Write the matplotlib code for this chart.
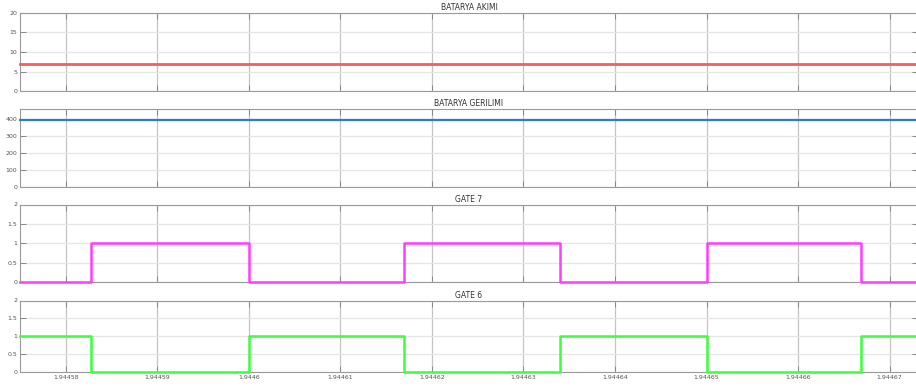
import numpy as np
import matplotlib
matplotlib.use("Agg")
import matplotlib.pyplot as plt

# time axis
x_ticks = [1.94458, 1.94459, 1.94460, 1.94461, 1.94462, 1.94463,
           1.94464, 1.94465, 1.94466, 1.94467]
x_tick_labels = ["1.94458", "1.94459", "1.9446", "1.94461", "1.94462",
                 "1.94463", "1.94464", "1.94465", "1.94466", "1.94467"]
x_min, x_max = 1.9445750, 1.9446731

# battery current (step values)
akim_t = [x_min, 1.9445761, 1.9445949, 1.9446089, 1.9446289, 1.9446420, 1.9446620, x_max]
akim_v = [6.9, 7.05, 6.9, 7.05, 6.9, 7.05, 6.9, 6.9]

# battery voltage
gerilim_t = [x_min, x_max]
gerilim_v = [396, 396]

# gate signals
gate_t = [x_min, 1.9445828, 1.9446000, 1.9446169, 1.9446340, 1.9446500, 1.9446669, x_max]
gate7_v = [0, 1, 0, 1, 0, 1, 0, 0]
gate6_v = [1, 0, 1, 0, 1, 0, 1, 1]

titles = ["BATARYA AKIMI", "BATARYA GERILIMI", "GATE 7", "GATE 6"]

fig = plt.figure(figsize=(9.16, 3.87), dpi=100)
H = 387.0
left = 20 / 916
width = (918 - 20) / 916
# (top px, bottom px) of each panel
boxes = [(13, 91), (109, 187), (204.5, 282), (300.5, 372)]
axes = []
for top, bot in boxes:
    axes.append(fig.add_axes([left, (H - bot) / H, width, (bot - top) / H]))

series = [
    (akim_t, akim_v, "#ff5a5a", 2.0, (0, 20), [0, 5, 10, 15, 20]),
    (gerilim_t, gerilim_v, "#2b7ec6", 1.6, (0, 460), [0, 100, 200, 300, 400]),
    (gate_t, gate7_v, "#ff3cff", 1.8, (0, 2), [0, 0.5, 1, 1.5, 2]),
    (gate_t, gate6_v, "#3cff3c", 1.8, (0, 2), [0, 0.5, 1, 1.5, 2]),
]

for i, (ax, (t, v, c, lw, ylim, yt)) in enumerate(zip(axes, series)):
    for s in ax.spines.values():
        s.set_color("#9a9a9a")
        s.set_linewidth(0.8)
        s.set_zorder(2)
    ax.step(t, v, where="post", color=c, lw=lw, zorder=3, clip_on=False)
    ax.set_xlim(x_min, x_max)
    ax.set_ylim(*ylim)
    ax.set_yticks(yt)
    ax.set_yticklabels([f"{y:g}" for y in yt])
    ax.set_xticks(x_ticks)
    if i == 3:
        ax.set_xticklabels(x_tick_labels)
    else:
        ax.set_xticklabels([])
    ax.set_title(titles[i], fontsize=5.5, pad=2, color="#333333")
    ax.xaxis.grid(True, color="#c4c4c4", lw=0.9)
    ax.yaxis.grid(True, color="#e6e6e6", lw=0.9)
    ax.set_axisbelow(True)
    ax.tick_params(direction="in", length=4, width=0.7, color="#888888",
                   labelsize=4.5, labelcolor="#555555", pad=2,
                   top=True, right=True)

plt.savefig("out.png", dpi=100)
